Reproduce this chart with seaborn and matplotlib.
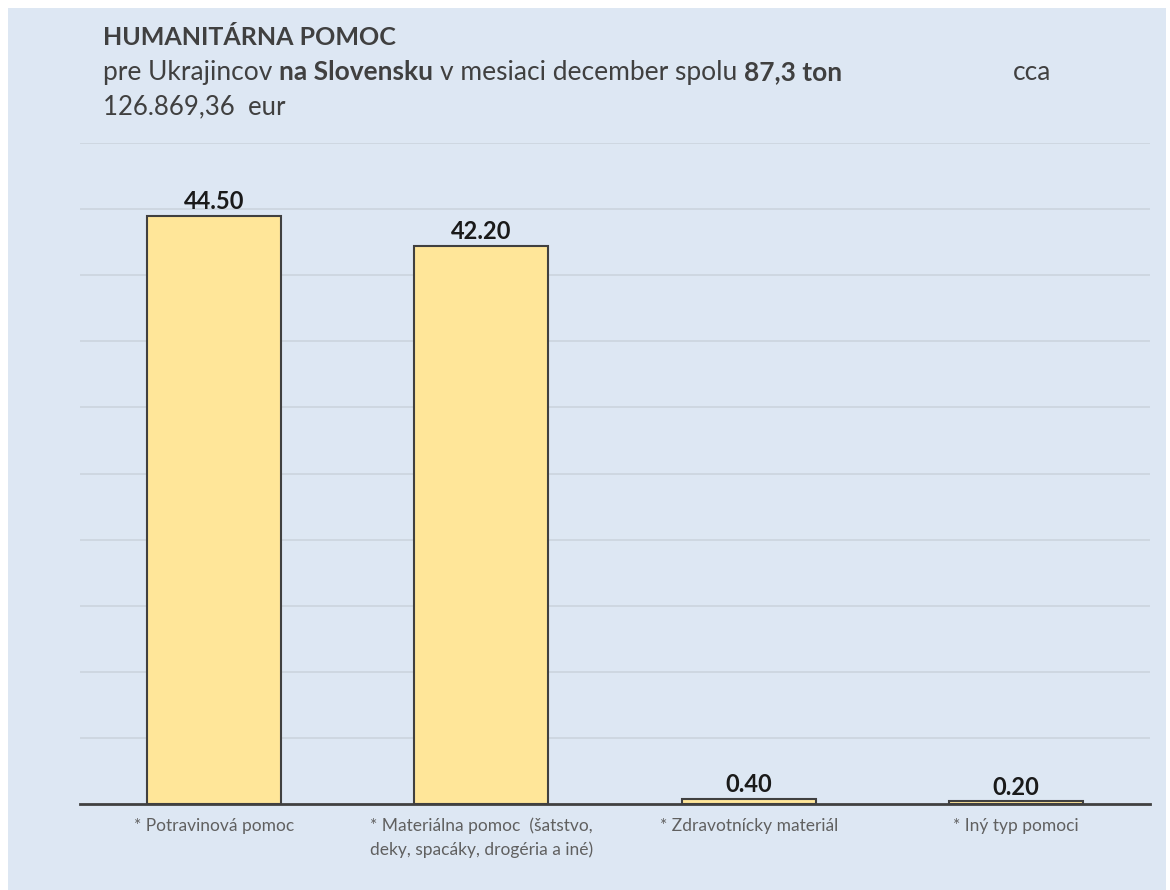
import matplotlib
matplotlib.use("Agg")
import matplotlib.pyplot as plt
import matplotlib.patches as mpatches
import seaborn as sns
import pandas as pd

categories = ["* Potravinová pomoc",
              "* Materiálna pomoc  (šatstvo,\ndeky, spacáky, drogéria a iné)",
              "* Zdravotnícky materiál",
              "* Iný typ pomoci"]
tons = [44.50, 42.20, 0.40, 0.20]

title = "HUMANITÁRNA POMOC"
subtitle_parts = [("pre Ukrajincov", "normal"), ("na Slovensku", "bold"),
                  ("v mesiaci december spolu", "normal"), ("87,3 ton", "bold")]
subtitle_tail = "cca"
subtitle_line3 = "126.869,36  eur"

df = pd.DataFrame({"kategoria": categories, "tony": tons})

sns.set_theme(style="white")
plt.rcParams["font.family"] = ["Lato", "DejaVu Sans"]

bg = "#dde7f3"
W, H = 1170, 890
fig = plt.figure(figsize=(W / 100, H / 100), dpi=100)
fig.patch.set_facecolor("white")
fig.patches.append(mpatches.Rectangle((8 / W, 0), (1158 / W), 1 - 8 / H,
                                      transform=fig.transFigure,
                                      facecolor=bg, edgecolor="none", zorder=-5))

ax = fig.add_axes([80 / W, 1 - 804 / H, 1070 / W, (804 - 143) / H])
ax.set_facecolor(bg)

sns.barplot(data=df, x="kategoria", y="tony", color="#ffe699", width=0.5,
            edgecolor="#404040", linewidth=1.5, saturation=1, ax=ax, zorder=3)

for cont in ax.containers:
    ax.bar_label(cont, fmt="%.2f", padding=2, fontsize=17, fontweight="bold",
                 color="#1a1a1a")

ax.set_ylim(0, 50)
ax.set_xlim(-0.5, 3.5)
ax.set_yticks(range(5, 55, 5))
ax.yaxis.grid(True, color="#ccd4de", linewidth=1.2)
ax.set_yticklabels([])
ax.tick_params(axis="y", length=0)
ax.tick_params(axis="x", length=0, pad=10, labelsize=12.5, labelcolor="#606060")
for lbl in ax.get_xticklabels():
    lbl.set_ha("center")
    lbl.set_linespacing(1.5)
for s in ["top", "right", "left"]:
    ax.spines[s].set_visible(False)
ax.spines["bottom"].set_color("#404040")
ax.spines["bottom"].set_linewidth(2)
ax.spines["bottom"].set_zorder(4)
ax.set_xlabel("")
ax.set_ylabel("")

# title block
fig.text(103 / W, 1 - 45 / H, title, fontsize=18, fontweight="bold",
         color="#404040", va="baseline")

fs = 19
renderer = fig.canvas.get_renderer()
probe = fig.text(0, 0, "x x", fontsize=fs)
probe2 = fig.text(0, 0, "xx", fontsize=fs)
space = probe.get_window_extent(renderer).width - probe2.get_window_extent(renderer).width
probe.remove()
probe2.remove()

x = 103
for txt, w in subtitle_parts:
    t = fig.text(x / W, 1 - 80 / H, txt, fontsize=fs, fontweight=w,
                 color="#404040", va="baseline")
    x = t.get_window_extent(renderer).x1 + space
fig.text(1013 / W, 1 - 80 / H, subtitle_tail, fontsize=fs, color="#404040",
         va="baseline")
fig.text(103 / W, 1 - 114 / H, subtitle_line3, fontsize=18.5, color="#404040",
         va="baseline")

fig.savefig("out.png", dpi=100, facecolor=fig.get_facecolor())
